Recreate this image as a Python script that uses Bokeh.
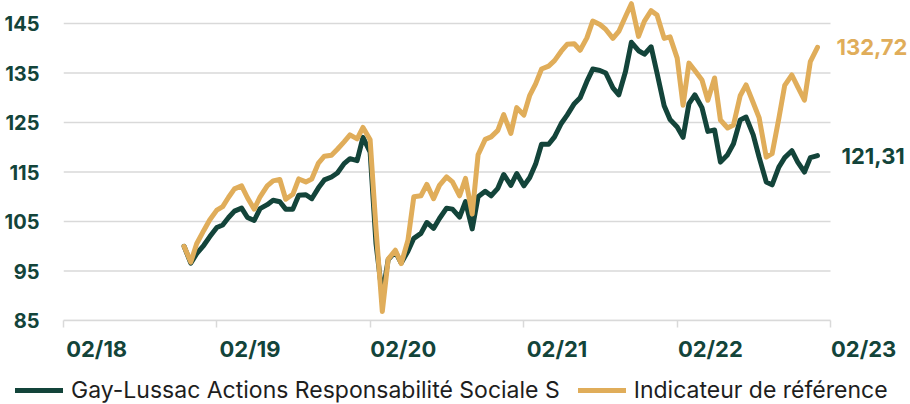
from datetime import datetime
import pandas as pd
from bokeh.plotting import figure
from bokeh.layouts import column
from bokeh.models import Range1d, FixedTicker, Label, Legend, LegendItem, DatetimeAxis
from bokeh.embed import file_html
from bokeh.resources import INLINE

# ---- data ----
dates = pd.date_range(start="2018-11-15", periods=100, freq="SMS")

fund = [100.0, 96.6, 98.5, 100.2, 101.9, 103.8, 104.3, 105.8, 107.1, 107.7,
        105.8, 105.2, 107.6, 108.4, 109.3, 109.0, 107.5, 107.5, 110.3, 110.4,
        109.6, 111.8, 113.4, 114.0, 114.8, 116.7, 117.7, 117.3, 122.0, 119.0,
        100.5, 90.0, 97.3, 98.9, 96.6, 99.0, 101.6, 102.6, 104.8, 103.6,
        105.6, 107.7, 107.5, 105.9, 109.0, 103.5, 110.0, 111.1, 110.2, 111.7,
        114.5, 112.3, 114.7, 112.2, 113.9, 116.6, 120.6, 120.6, 122.1, 124.8,
        126.5, 128.8, 130.0, 133.3, 135.8, 135.5, 135.0, 132.0, 130.6, 135.3,
        141.2, 139.5, 138.8, 140.3, 135.0, 128.4, 125.6, 124.1, 122.0, 128.8,
        130.6, 128.0, 123.2, 123.5, 117.0, 118.5, 120.7, 125.5, 126.1, 122.5,
        118.0, 113.0, 112.4, 116.0, 117.9, 119.3, 117.0, 115.0, 117.9, 118.3]

benchmark = [100.0, 96.8, 100.5, 103.2, 105.3, 107.3, 108.0, 109.9, 111.6, 112.2,
             109.8, 107.5, 110.0, 112.2, 113.2, 113.5, 109.5, 110.5, 113.6, 113.0,
             113.6, 116.8, 118.2, 118.4, 119.6, 121.1, 122.5, 121.7, 124.0, 121.5,
             103.5, 86.8, 97.4, 99.2, 96.5, 101.2, 110.0, 110.2, 112.5, 109.6,
             112.3, 114.0, 113.0, 110.2, 113.7, 106.5, 118.5, 121.6, 122.1, 123.4,
             126.6, 122.8, 128.0, 126.5, 130.5, 132.8, 135.8, 136.4, 137.5, 139.4,
             140.8, 140.9, 139.6, 142.1, 145.5, 144.8, 143.8, 142.0, 143.4, 146.4,
             149.0, 142.4, 145.5, 147.6, 146.7, 142.0, 142.3, 138.0, 128.5, 137.0,
             135.5, 133.6, 129.5, 134.0, 125.5, 123.9, 124.5, 130.4, 132.6, 129.0,
             126.0, 118.0, 118.7, 125.8, 132.5, 134.6, 132.2, 129.5, 137.3, 140.2]

series_names = ["Gay-Lussac Actions Responsabilité Sociale S", "Indicateur de référence"]
end_labels = ["121,31", "132,72"]

y_ticks = [85, 95, 105, 115, 125, 135, 145]
x_tick_dates = ["2018-02-01", "2019-02-01", "2020-02-01", "2021-02-01", "2022-02-01", "2023-02-01"]
x_tick_labels = ["02/18", "02/19", "02/20", "02/21", "02/22", "02/23"]

GREEN = "#13443a"
GOLD = "#e0ad5a"
GRID = "#d9d9d9"
FONT = "Inter"

W, H_MAIN, H_LEG = 910, 376, 28
FRAME_L, FRAME_R_AXIS = 63, 830   # pixel positions of first / last x tick

x_ticks_ms = [pd.Timestamp(d).value / 1e6 for d in x_tick_dates]
x0, x1 = x_ticks_ms[0], x_ticks_ms[-1]
x_end = x0 + (x1 - x0) * (W - FRAME_L) / (FRAME_R_AXIS - FRAME_L)
DAY_MS = 86400000.0
label_shift = 79 * DAY_MS  # label centre sits right of its tick (labels are left-aligned on ticks)


def no_frame_align(fig):
    try:
        fig.frame_align = False
    except AttributeError:
        pass


# ---- main figure ----
p = figure(width=W, height=H_MAIN, x_axis_type=None,
           x_range=Range1d(x0, x_end), y_range=Range1d(85, 149.65),
           output_backend="svg", toolbar_location=None,
           min_border_left=FRAME_L, min_border_right=0, min_border_top=0, min_border_bottom=56)
no_frame_align(p)
p.outline_line_color = None
p.background_fill_color = "white"
p.border_fill_color = "white"
p.xgrid.visible = False
p.ygrid.visible = False

# horizontal grid lines, ending at the last x tick
p.segment(x0=[x0] * len(y_ticks), x1=[x1] * len(y_ticks), y0=y_ticks, y1=y_ticks,
          line_color=GRID, line_width=1.5)

style_fund = dict(line_color=GREEN, line_width=5, line_join="round", line_cap="round")
style_bench = dict(line_color=GOLD, line_width=5, line_join="round", line_cap="round")
p.line(dates, fund, **style_fund)
p.line(dates, benchmark, **style_bench)

# y axis
p.yaxis.ticker = FixedTicker(ticks=y_ticks)
p.yaxis.axis_line_color = None
p.yaxis.major_tick_line_color = None
p.yaxis.minor_tick_line_color = None
p.yaxis.major_label_standoff = 18
p.yaxis.major_label_text_font = FONT
p.yaxis.major_label_text_font_style = "bold"
p.yaxis.major_label_text_font_size = "20px"
p.yaxis.major_label_text_color = GREEN

# x axis 1: line + tick marks
ax_ticks = DatetimeAxis(ticker=FixedTicker(ticks=x_ticks_ms), bounds=(x0, x1),
                        major_label_overrides={t: "" for t in x_ticks_ms},
                        major_label_text_font_size="1px", major_label_standoff=0,
                        axis_line_color=GRID, axis_line_width=1.5,
                        major_tick_line_color=GRID, major_tick_line_width=1.5,
                        major_tick_out=7, major_tick_in=0, minor_tick_line_color=None)
p.add_layout(ax_ticks, "below")

# x axis 2: labels, left-aligned on the ticks
lab_ticks = [t + label_shift for t in x_ticks_ms]
ax_labels = DatetimeAxis(ticker=FixedTicker(ticks=lab_ticks),
                         major_label_overrides={t: l for t, l in zip(lab_ticks, x_tick_labels)},
                         axis_line_color=None, major_tick_line_color=None, minor_tick_line_color=None,
                         major_tick_out=0, major_tick_in=0, major_label_standoff=8,
                         major_label_text_font=FONT, major_label_text_font_style="bold",
                         major_label_text_font_size="22px", major_label_text_color=GREEN)
p.add_layout(ax_labels, "below")

# end labels
p.add_layout(Label(x=dates[-1], y=fund[-1], text=end_labels[0], x_offset=24, text_baseline="middle",
                   text_font=FONT, text_font_style="bold", text_font_size="22px", text_color=GREEN))
p.add_layout(Label(x=dates[-1], y=benchmark[-1], text=end_labels[1], x_offset=19, text_baseline="middle",
                   text_font=FONT, text_font_style="bold", text_font_size="22px", text_color=GOLD))

# ---- legend strip ----
pl = figure(width=W, height=H_LEG, x_axis_type=None, y_axis_type=None,
            x_range=Range1d(0, 1), y_range=Range1d(0, 1),
            output_backend="svg", toolbar_location=None,
            min_border_left=0, min_border_right=0, min_border_top=0, min_border_bottom=0)
no_frame_align(pl)
pl.outline_line_color = None
pl.xgrid.visible = False
pl.ygrid.visible = False
# same series (outside this strip's visible range) so the legend keys are drawn
lr_fund = pl.line(dates, fund, **style_fund)
lr_bench = pl.line(dates, benchmark, **style_bench)
legend = Legend(items=[LegendItem(label=series_names[0], renderers=[lr_fund]),
                       LegendItem(label=series_names[1], renderers=[lr_bench])],
                location=(15, 0), orientation="horizontal",
                glyph_width=48, glyph_height=20, label_standoff=8, spacing=18,
                padding=0, margin=0, border_line_color=None, background_fill_alpha=0,
                label_text_font=FONT, label_text_font_size="23px", label_text_color="#1e1e1e")
pl.add_layout(legend)

layout = column(p, pl, spacing=0)
open("out.html", "w").write(file_html(layout, INLINE))
